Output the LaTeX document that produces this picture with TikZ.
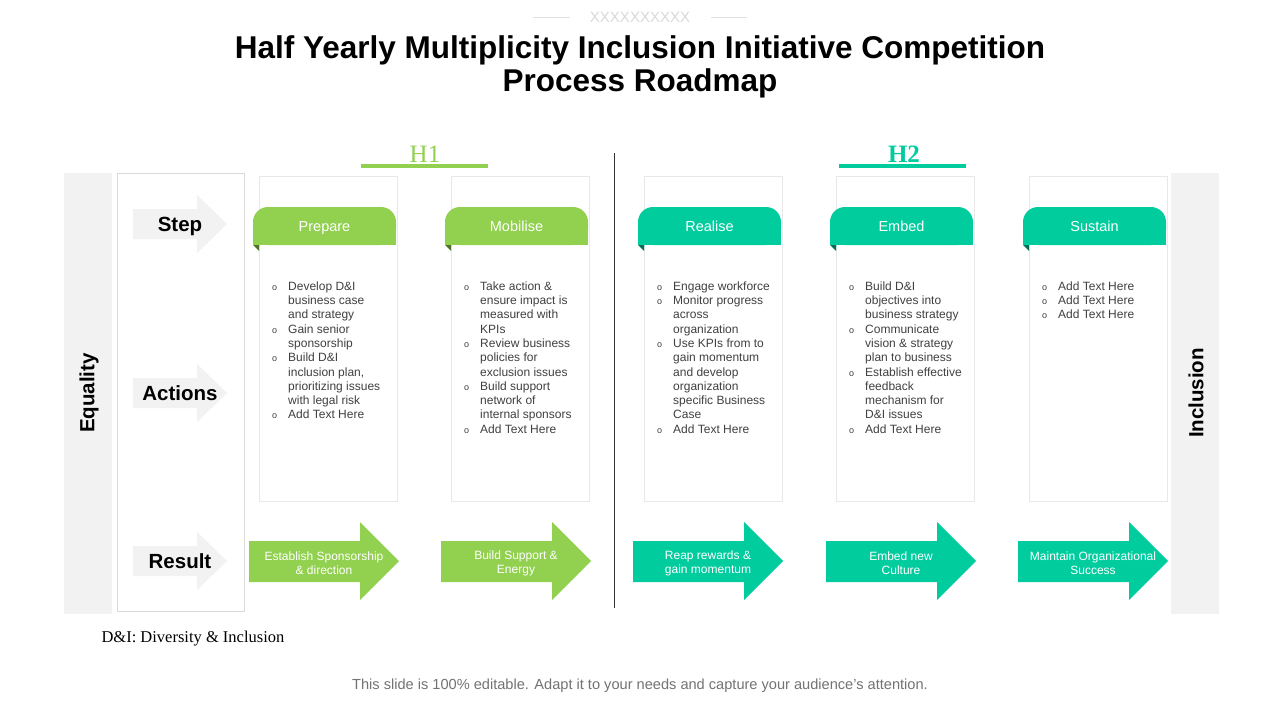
\documentclass[tikz,border=0pt]{standalone}
\usepackage{fontspec}
\setmainfont{Liberation Serif}
\setsansfont{Liberation Sans}
\usetikzlibrary{arrows,shapes}
\definecolor{leafgreen}{RGB}{146,208,80}
\definecolor{seateal}{RGB}{0,204,158}
\definecolor{bandgrey}{RGB}{242,242,242}
\definecolor{bodygrey}{RGB}{64,64,64}
\tikzstyle{band}=[fill=bandgrey,draw=none]
\tikzstyle{card}=[draw=black!9,fill=white,line width=0.8pt]
\tikzstyle{title text}=[align=center,font=\sffamily\bfseries\fontsize{31.5}{33}\selectfont]
\tikzstyle{half text}=[anchor=base,font=\fontsize{25}{28}\selectfont]
\tikzstyle{side label}=[font=\sffamily\bfseries\fontsize{20.5}{24}\selectfont]
\tikzstyle{tab label}=[anchor=base,text=white,font=\sffamily\fontsize{14.5}{17}\selectfont]
\tikzstyle{bullets}=[anchor=north west,inner sep=0pt,text=bodygrey,font=\sffamily\fontsize{12}{14.3}\selectfont]
\tikzstyle{result label}=[text=white,align=center,font=\sffamily\fontsize{12}{14}\selectfont]
\newcommand{\bl}{{\small o}}

\begin{document}
\begin{tikzpicture}[x=1pt,y=-1pt]
    \useasboundingbox[fill=white] (0,0) rectangle (1280,720);
    % Heading with its little ornament
    \draw[black!12] (533,17) -- (570,17);
    \draw[black!12] (711,17) -- (747,17);
    \node[text=black!15,font=\sffamily\fontsize{15}{17}\selectfont] (ornament) at (640,17) {XXXXXXXXXX};
    \node[title text] (title) at (640,67) {Half Yearly Multiplicity Inclusion Initiative Competition\\Process Roadmap};

    % Half year markers
    \fill[leafgreen] (361,164) rectangle (488,168);
    \fill[seateal] (839,164) rectangle (966,168);
    \node[half text,text=leafgreen] (H1) at (425,162) {H1};
    \node[half text,text=seateal,font=\bfseries\fontsize{25}{28}\selectfont] (H2) at (904,162) {H2};
    \draw[black!80,line width=0.8pt] (614,153) -- (614,608);

    % Side bands and the row label box
    \fill[band] (64,173) rectangle (112,614);
    \fill[band] (1171,173) rectangle (1219,614);
    \node[side label,rotate=90] (equality) at (89,393) {Equality};
    \node[side label,rotate=90] (inclusion) at (1196,393) {Inclusion};
    \draw[black!15,line width=0.8pt] (117,173) rectangle (244,611);
    \foreach \y/\name/\txt in {224/step/Step, 393/actions/Actions, 561/result/Result} {
        \fill[band] (133,\y-15) -- (197,\y-15) -- (197,\y-29) -- (227,\y) -- (197,\y+29) -- (197,\y+15) -- (133,\y+15) -- cycle;
        \node[side label,anchor=base] (\name) at (180,\y+7.5) {\txt};
    }

    % Cards with their tabs
    \foreach \x/\name/\col in {259/Prepare/leafgreen, 451/Mobilise/leafgreen, 644/Realise/seateal, 836/Embed/seateal, 1029/Sustain/seateal} {
        \draw[card] (\x,176) rectangle (\x+138,501);
        \fill[\col,rounded corners=15pt] (\x-6,207) rectangle (\x+137,245);
        \fill[\col] (\x-6,226) rectangle (\x+137,245);
        \fill[\col!55!black] (\x-6,245) -- (\x,245) -- (\x,251) -- cycle;
        \node[tab label] (\name) at (\x+65.5,231) {\name};
    }

    % Actions in each card
    \node[bullets] (prepare list) at (272,280) {\begin{tabular}{@{}p{16pt}@{}l@{}}
        \bl & Develop D\&I\\ & business case\\ & and strategy\\
        \bl & Gain senior\\ & sponsorship\\
        \bl & Build D\&I\\ & inclusion plan,\\ & prioritizing issues\\ & with legal risk\\
        \bl & Add Text Here
    \end{tabular}};
    \node[bullets] (mobilise list) at (464,280) {\begin{tabular}{@{}p{16pt}@{}l@{}}
        \bl & Take action \&\\ & ensure impact is\\ & measured with\\ & KPIs\\
        \bl & Review business\\ & policies for\\ & exclusion issues\\
        \bl & Build support\\ & network of\\ & internal sponsors\\
        \bl & Add Text Here
    \end{tabular}};
    \node[bullets] (realise list) at (657,280) {\begin{tabular}{@{}p{16pt}@{}l@{}}
        \bl & Engage workforce\\
        \bl & Monitor progress\\ & across\\ & organization\\
        \bl & Use KPIs from to\\ & gain momentum\\ & and develop\\ & organization\\ & specific Business\\ & Case\\
        \bl & Add Text Here
    \end{tabular}};
    \node[bullets] (embed list) at (849,280) {\begin{tabular}{@{}p{16pt}@{}l@{}}
        \bl & Build D\&I\\ & objectives into\\ & business strategy\\
        \bl & Communicate\\ & vision \& strategy\\ & plan to business\\
        \bl & Establish effective\\ & feedback\\ & mechanism for\\ & D\&I issues\\
        \bl & Add Text Here
    \end{tabular}};
    \node[bullets] (sustain list) at (1042,280) {\begin{tabular}{@{}p{16pt}@{}l@{}}
        \bl & Add Text Here\\
        \bl & Add Text Here\\
        \bl & Add Text Here
    \end{tabular}};

    % Result arrows
    \foreach \x/\name/\col/\txt in {249/sponsorship/leafgreen/Establish Sponsorship\\\& direction, 441/support/leafgreen/Build Support \&\\Energy, 633/rewards/seateal/Reap rewards \&\\gain momentum, 826/culture/seateal/Embed new\\Culture, 1018/success/seateal/Maintain Organizational\\Success} {
        \fill[\col] (\x,541) -- (\x+111,541) -- (\x+111,522) -- (\x+150,561) -- (\x+111,600) -- (\x+111,582) -- (\x,582) -- cycle;
        \node[result label] (\name) at (\x+75,563) {\txt};
    }

    % Notes at the bottom
    \node[anchor=west,font=\fontsize{16.5}{19}\selectfont] (note) at (98,639) {D\&I: Diversity \& Inclusion};
    \node[text=black!55,font=\sffamily\fontsize{14.6}{17}\selectfont] (footer) at (640,686) {This slide is 100\% editable. Adapt it to your needs and capture your audience's attention.};
\end{tikzpicture}
\end{document}
